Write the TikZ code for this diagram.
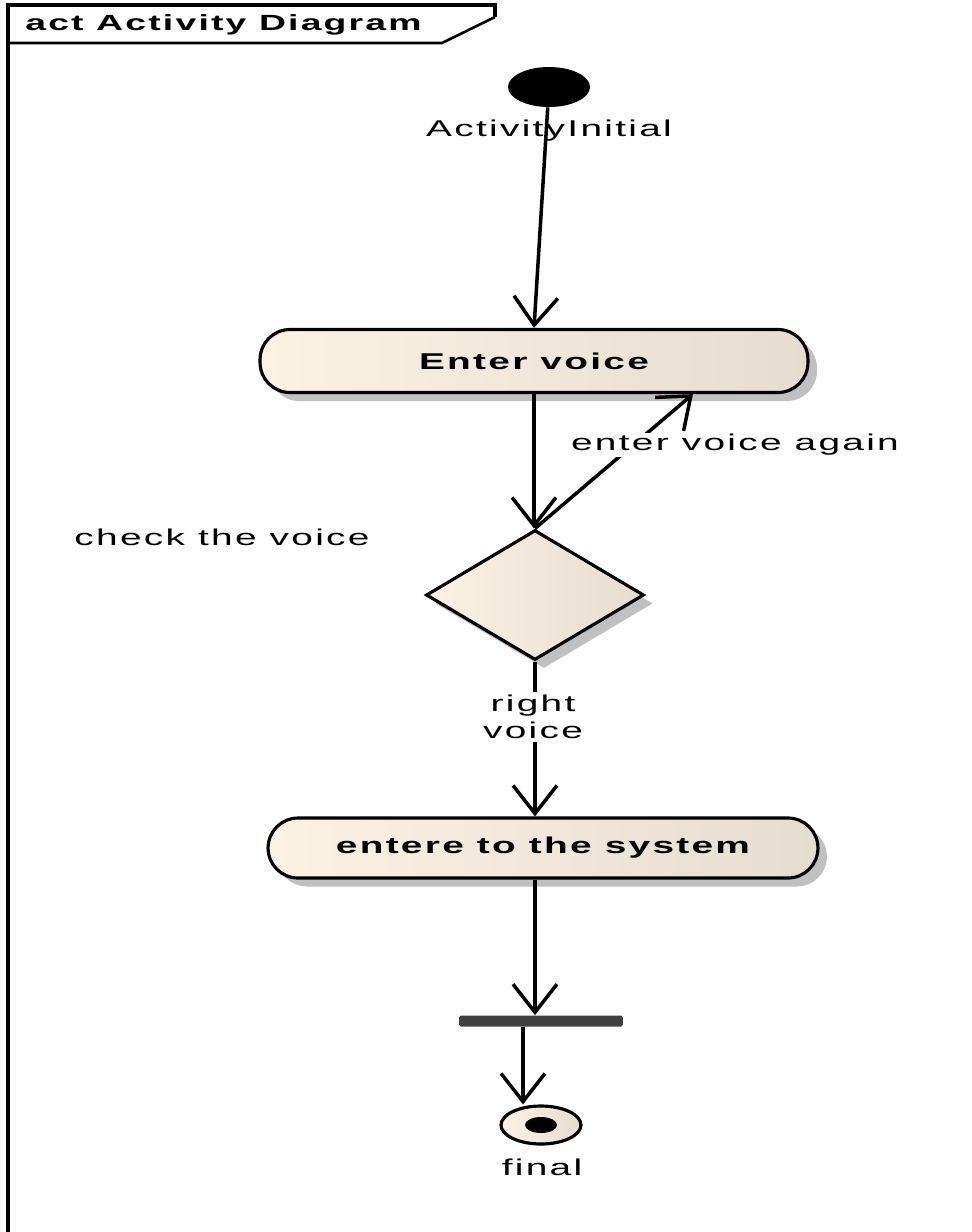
\documentclass[tikz,border=0pt]{standalone}
\usepackage{fontspec}
\setmainfont{Liberation Sans}[FakeStretch=1.7,LetterSpace=10]
\usepackage{tikz}
\usetikzlibrary{arrows.meta,shapes.geometric,shadows}

\definecolor{actleft}{RGB}{251,242,228}
\definecolor{actright}{RGB}{230,221,209}
\definecolor{shadowgrey}{RGB}{192,192,192}
\definecolor{bargrey}{RGB}{64,64,64}
\def\umlfont{\fontsize{13}{15.4}\selectfont}

\tikzset{
	flow/.style={line width=2pt, -{Straight Barb[length=16pt,width=25pt]}},
	umlshadow/.style={drop shadow={shadow xshift=0.18cm, shadow yshift=-0.17cm, fill=shadowgrey, opacity=1}},
	action/.style={draw, line width=1.8pt, rounded corners=0.6cm, left color=actleft, right color=actright, font=\umlfont\bfseries, umlshadow},
	decision/.style={diamond, draw, line width=1.8pt, inner sep=0pt, minimum width=4.36cm, minimum height=2.6cm, left color=actleft, right color=actright, umlshadow},
	txt/.style={font=\umlfont, inner sep=1pt, align=center},
}

\begin{document}
\begin{tikzpicture}[x=0.02cm, y=-0.02cm]
			%%%%% START %%%%%
			\useasboundingbox (0,0) rectangle (972,1232);
			
			\draw[line width=2pt] (8,1240) -- (8,5) -- (495,5) -- (495,17);
			\draw[line width=1.5pt] (8,43) -- (442,43) -- (495,17);
			\node[anchor=west, font=\fontsize{12.5}{15}\selectfont\bfseries, inner sep=0pt] (title) at (25,25) {act Activity Diagram};
			
			\node[ellipse, fill=black, minimum width=1.64cm, minimum height=0.8cm] (init) at (549,87) {};
			\node[txt] (lblinit) at (549,131) {ActivityInitial};
			
			\node[action, minimum width=10.96cm, minimum height=1.26cm] (ev) at (534,361) {Enter voice};
			\node[decision] (dia) at (535,595) {};
			\node[txt] (lblcheck) at (222,537) {check the voice};
			
			\node[action, minimum width=11cm, minimum height=1.2cm] (sys) at (543,848) {entere to the system};
			
			\node[fill=bargrey, rounded corners=1pt, inner sep=0pt, minimum width=3.28cm, minimum height=0.22cm] (bar) at (541,1021) {};
			
			\node[ellipse, draw, line width=1.8pt, left color=actleft, right color=actright, minimum width=1.6cm, minimum height=0.76cm] (fin) at (541,1125) {};
			\fill (fin) ellipse (0.32cm and 0.16cm);
			\node[txt] (lblfin) at (542,1167) {final};
			
			\draw[flow] (init) -- (ev.north);
			\draw[flow] (ev.south) -- (ev.south |- dia.north);
			\draw[flow] (dia.north) -- ([xshift=3.18cm]ev.south);
			\draw[flow] (dia.south) -- (dia.south |- sys.north);
			\draw[flow] (dia.south |- sys.south) -- (dia.south |- bar.north);
			\draw[flow] ([xshift=-0.36cm]bar.south) -- ([xshift=-0.36cm]fin.north);
			
			\node[txt, fill=white] (lblagain) at (735,445) {enter voice again};
			\node[txt, fill=white, inner sep=2pt] (lblright) at (533,717) {right\\voice};
			%%%%% END %%%%%
\end{tikzpicture}
\end{document}
